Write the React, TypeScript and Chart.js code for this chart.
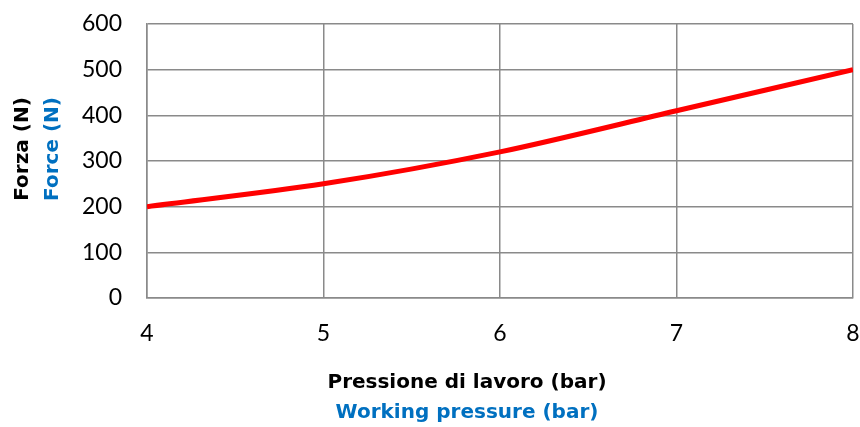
import React, { useEffect, useRef } from "react";
import { Chart, registerables } from "chart.js";

Chart.register(...registerables);

const pressures = [4, 5, 6, 7, 8];
const forces = [200, 250, 320, 410, 500];
const yTitleLines = ["Forza (N)", "Force (N)"];
const xTitleLines = ["Pressione di lavoro (bar)", "Working pressure (bar)"];
const titleColors = ["#000000", "#0070C0"];

const titlePlugin = {
  id: "dualTitles",
  afterDraw(chart: any) {
    const ctx = chart.ctx;
    ctx.save();
    ctx.font = "bold 20px 'DejaVu Sans'";
    ctx.textAlign = "center";
    ctx.textBaseline = "middle";
    const cx = 467;
    xTitleLines.forEach((t, i) => {
      ctx.fillStyle = titleColors[i];
      ctx.fillText(t, cx, 383 + i * 30);
    });
    yTitleLines.forEach((t, i) => {
      ctx.save();
      ctx.translate(23 + i * 30, 149);
      ctx.rotate(-Math.PI / 2);
      ctx.fillStyle = titleColors[i];
      ctx.fillText(t, 0, 0);
      ctx.restore();
    });
    ctx.restore();
  },
};

export default function App() {
  const ref = useRef<HTMLCanvasElement>(null);
  useEffect(() => {
    const chart = new Chart(ref.current!, {
      type: "line",
      data: {
        datasets: [
          {
            data: pressures.map((x, i) => ({ x, y: forces[i] })),
            borderColor: "#FF0000",
            borderWidth: 5,
            pointRadius: 0,
            tension: 0.3,
            fill: false,
          },
        ],
      },
      options: {
        animation: false,
        responsive: false,
        maintainAspectRatio: false,
        layout: { padding: { top: 24, right: 7, left: 0, bottom: 0 } },
        plugins: { legend: { display: false }, tooltip: { enabled: false } },
        scales: {
          x: {
            type: "linear",
            min: 4,
            max: 8,
            ticks: { stepSize: 1, color: "#000", font: { family: "Lato", size: 23 }, padding: 22 },
            grid: { color: "#8a8a8a", lineWidth: 1.5, drawTicks: false },
            border: { color: "#8a8a8a", width: 1.5 },
            afterFit: (s: any) => {
              s.height = 129;
              s.paddingLeft = 0;
              s.paddingRight = 0;
            },
          },
          y: {
            min: 0,
            max: 600,
            ticks: { stepSize: 100, color: "#000", font: { family: "Lato", size: 23 }, padding: 25 },
            grid: { color: "#8a8a8a", lineWidth: 1.5, drawTicks: false },
            border: { color: "#8a8a8a", width: 1.5 },
            afterFit: (s: any) => {
              s.width = 147;
              s.paddingTop = 0;
              s.paddingBottom = 0;
            },
          },
        },
      },
      plugins: [titlePlugin],
    });
    return () => chart.destroy();
  }, []);
  return (
    <div style={{ position: "fixed", left: 0, top: 0, width: 860, height: 427, background: "#fff" }}>
      <canvas ref={ref} width={860} height={427} style={{ width: 860, height: 427 }} />
    </div>
  );
}
